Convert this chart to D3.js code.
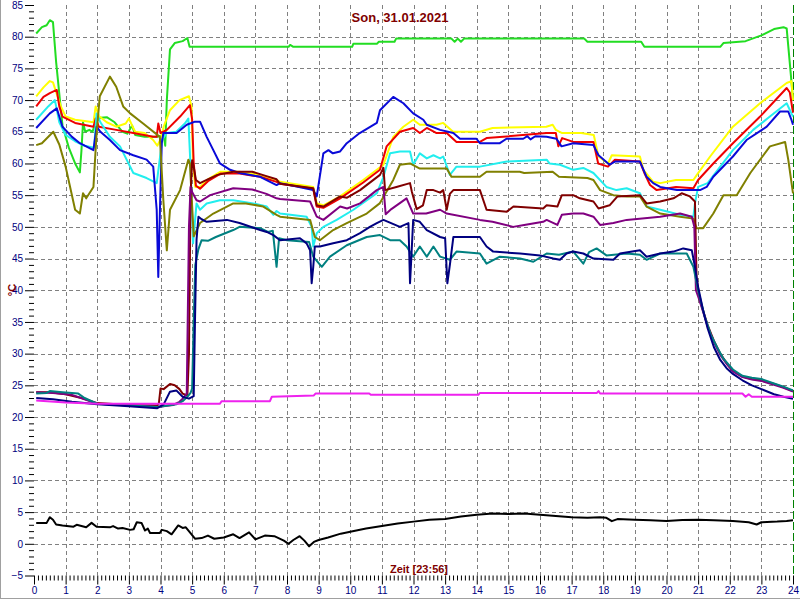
<!DOCTYPE html>
<html><head><meta charset="utf-8">
<script src="https://cdn.jsdelivr.net/npm/d3@7"></script>
<style>body{margin:0;background:#fff}svg{display:block}</style>
</head><body>
<svg id="c" width="800" height="600"></svg>
<script>
const title = "Son, 31.01.2021";
const xTitle = "Zeit [23:56]";
const yTitle = "°C";
const xTicks = d3.range(0, 25, 1);
const yTicks = d3.range(-5, 86, 5);

const green = [[0.07,80.5],[0.25,81.5],[0.4,81.8],[0.5,82.6],[0.6,82.3],[0.7,76],[0.82,70],[0.9,66],[1.1,62.5],[1.3,60],[1.45,58.6],[1.5,62],[1.55,66.5],[1.62,65],[1.75,65.3],[1.85,65],[1.95,66.6],[2.1,67.2],[2.3,67.3],[2.55,66.5],[2.8,65],[2.95,64.7],[3.1,66],[3.2,64.5],[3.5,64.2],[3.9,64.2],[4.1,64.5],[4.15,62.8],[4.2,70],[4.3,78],[4.45,79],[4.7,79.3],[4.85,79.8],[4.92,78.4],[8.05,78.4],[8.1,78.7],[8.2,78.4],[10.06,78.4],[10.1,78.9],[10.85,78.9],[10.9,79.2],[11.4,79.2],[11.45,79.7],[13.2,79.7],[13.3,79.2],[13.4,79.7],[13.5,79.2],[13.6,79.7],[17.4,79.7],[17.5,79.2],[19.2,79.2],[19.3,78.4],[21.7,78.4],[21.8,79],[22.5,79.3],[23.0,80.2],[23.4,81.2],[23.7,81.5],[23.8,81.3],[23.95,73],[24,70]];
const yellow = [[0.07,70.6],[0.3,72],[0.5,73.0],[0.6,72.8],[0.75,70.5],[0.85,69],[1.0,67.4],[1.3,66.9],[1.6,66.7],[1.88,66.5],[1.95,69],[2.05,67.5],[2.3,66.5],[2.6,65.8],[2.9,66.3],[3.0,67.1],[3.1,66],[3.2,65],[3.5,64.8],[3.77,63.7],[3.9,62.8],[4.0,63.8],[4.1,65.8],[4.3,68.4],[4.6,70],[4.9,70.6],[4.98,69],[5.03,60],[5.1,56.3],[5.25,56.3],[5.5,57.5],[5.9,58.7],[6.5,58.7],[7.15,58.2],[7.67,57.4],[7.78,57.1],[8.83,56.3],[8.94,53.7],[9.15,53.4],[9.68,54.8],[10.41,57.4],[11.05,59.8],[11.36,64.2],[11.68,65.8],[11.99,66.9],[12.2,66.1],[12.73,66.1],[12.94,66.4],[13.25,65],[14.1,65],[14.5,65.6],[16.2,65.8],[16.4,66.1],[16.5,65.3],[16.7,64.8],[17.3,64.8],[17.7,64.5],[17.85,61.1],[18.15,60.0],[18.27,61.3],[19.16,61.1],[19.27,59],[19.58,57.1],[19.8,56.9],[20.3,57.4],[20.85,57.4],[20.96,58.2],[21.38,61.1],[22.1,65.8],[22.96,69.5],[23.8,72.7],[23.95,73.0],[24,70]];
const red = [[0.07,69],[0.3,70.5],[0.5,71.1],[0.72,71.6],[0.8,69],[0.9,67.4],[1.3,66.4],[1.88,65.8],[1.95,67.1],[2.05,65.8],[2.6,65.3],[3.14,64.8],[3.77,64.2],[3.88,64.2],[3.93,66.3],[4.0,64.8],[4.2,65.3],[4.62,67.4],[4.93,69.2],[5.0,67],[5.05,60],[5.12,56.5],[5.25,56.0],[5.5,57.2],[5.9,58.4],[6.5,58.4],[7.15,57.9],[7.67,57.1],[7.78,56.8],[8.83,56.0],[8.94,53.2],[9.15,53.0],[9.68,54.5],[10.41,57],[10.94,59],[11.15,62.7],[11.57,65],[11.99,65.6],[12.2,64.8],[12.42,65.6],[12.73,64.8],[13.05,64.8],[13.36,63.4],[14.1,63.4],[14.31,64],[16.21,64.8],[16.5,64.8],[16.58,62.7],[16.7,64],[17.05,63.4],[17.69,63.4],[17.84,60.0],[18.15,59.5],[18.37,60.6],[19.16,60.3],[19.3,58.5],[19.48,56.6],[19.69,55.8],[20.3,56.3],[20.85,56.1],[21.0,57.4],[21.48,60.0],[22.1,63.2],[22.96,67.4],[23.8,71.9],[23.9,71.2],[24,68]];
const cyan = [[0.07,66.9],[0.45,69],[0.66,70],[0.8,66.5],[1.0,64.5],[1.3,63.5],[1.6,62.8],[1.9,62.5],[1.98,67.9],[2.1,66.5],[2.4,64.2],[2.72,62.7],[3.14,58.5],[3.56,57.7],[3.88,56.9],[3.96,60],[4.05,63.7],[4.2,64.8],[4.5,65],[4.77,66.3],[4.88,67.1],[4.95,59.5],[5.03,47.4],[5.14,53.7],[5.25,52.7],[5.46,53.7],[5.88,54.2],[6.3,54.2],[6.93,53.7],[7.36,53.2],[7.57,51.9],[7.67,52.5],[7.78,52.1],[8.62,51.6],[8.78,50],[8.83,46.9],[8.94,49],[9.15,50],[9.57,51.1],[10.1,52.7],[10.84,55.3],[11.05,57.9],[11.26,61.6],[11.57,61.9],[11.89,61.9],[11.99,59.8],[12.2,61.6],[12.42,60.8],[12.63,61.3],[12.84,60.8],[12.94,61.1],[13.15,58.2],[13.36,59.5],[14.1,59.5],[14.95,60.3],[16.21,60.6],[16.3,60.0],[16.63,59.8],[17.05,59],[17.37,59.3],[17.69,58.5],[18.1,56.3],[18.42,55.8],[18.74,56.1],[19.16,55.3],[19.37,53.2],[19.8,52.7],[20.43,51.9],[20.85,51.6],[20.9,53.7],[21.0,56.3],[21.3,56.9],[22.1,62.1],[22.74,65.3],[23.27,67.4],[23.8,69.5],[23.95,67.9],[24,67.4]];
const blue = [[0.07,65.6],[0.5,67.9],[0.72,68.7],[0.9,65.8],[1.2,64.2],[1.45,63.2],[1.88,62.1],[1.98,65.8],[2.1,65.0],[2.4,63.7],[2.72,62.1],[3.14,61.3],[3.56,60.6],[3.77,59.5],[3.88,52.7],[3.93,42.1],[3.99,54.2],[4.04,63.2],[4.09,64.8],[4.51,64.8],[4.83,66.1],[5.09,66.6],[5.25,66.6],[5.46,64.2],[5.67,62.1],[5.88,60.0],[6.2,59],[6.5,58.5],[7.15,57.9],[7.67,56.6],[7.78,56.9],[8.83,55.8],[8.94,54.8],[9.15,61.6],[9.31,62.1],[9.45,61.6],[9.68,61.9],[9.89,63.2],[10.3,64.8],[10.84,66.4],[10.94,68.4],[11.36,70.5],[11.68,69.5],[11.99,67.9],[12.31,66.9],[12.42,66.1],[12.84,65.3],[13.26,64.8],[13.47,63.9],[13.99,63.9],[14.1,63.2],[14.73,63.2],[14.94,63.9],[15.47,63.9],[15.6,64.3],[15.7,63.8],[15.85,64.3],[16.21,64.2],[16.52,63.9],[16.68,62.7],[17.05,63.2],[17.69,62.9],[17.85,61.3],[18.2,59.8],[18.37,60.3],[19.16,60.3],[19.37,57.9],[19.58,56.9],[19.8,56.3],[20.33,55.8],[21.06,55.8],[21.27,56.3],[21.48,57.9],[22.1,61.1],[22.53,63.7],[23.17,65.8],[23.59,68.2],[23.85,68.2],[23.95,66.9],[24,66.1]];
const olive = [[0.07,62.9],[0.25,63.2],[0.61,65],[0.8,63],[1.0,59.5],[1.3,52.7],[1.45,52.1],[1.55,55.3],[1.65,54.5],[1.88,56.3],[1.98,64.8],[2.08,70.6],[2.4,73.7],[2.6,72.1],[2.82,69],[3.04,67.9],[3.45,66.3],[3.98,64.2],[4.09,54.2],[4.2,46.3],[4.3,52.7],[4.62,55.8],[4.88,60.6],[4.93,60.0],[5.05,48.5],[5.25,50.6],[5.67,52.1],[6.3,53.7],[6.7,53.7],[7.25,53.2],[7.67,51.9],[7.78,51.6],[8.73,51.1],[8.88,48.4],[9.04,47.9],[9.46,49.5],[9.89,50.6],[10.52,52.1],[10.93,53.7],[11.36,57.4],[11.57,59.8],[11.89,60.0],[12.2,59.2],[13.05,59.2],[13.2,57.9],[14.1,57.9],[14.31,58.7],[15.36,58.7],[15.5,58.5],[16.4,58.7],[16.6,57.9],[17.5,57.7],[17.69,57.4],[17.9,55.8],[18.32,55.0],[18.74,54.8],[19.16,54.8],[19.37,53.2],[19.8,52.1],[20.43,51.6],[20.85,51.3],[20.95,49.8],[21.16,49.8],[21.48,52.1],[21.8,55],[22.22,55],[22.65,58.5],[23.27,62.7],[23.75,63.4],[23.85,60.6],[24,55.3]];
const maroon = [[0.07,23.9],[0.5,23.9],[1.0,23.6],[1.5,23.0],[2.0,22.2],[3.0,21.9],[3.9,21.8],[3.95,22.2],[4.0,24.5],[4.1,24.4],[4.3,25.2],[4.45,25.0],[4.6,24.4],[4.7,23.7],[4.85,23.4],[4.9,30],[4.95,55],[5.0,60.5],[5.05,59.5],[5.12,57.4],[5.25,56.9],[5.46,57.4],[5.8,58.2],[6.3,58.7],[6.9,58.7],[7.35,58],[7.67,57.5],[7.78,56.8],[8.83,56.1],[8.94,53.4],[9.15,53.2],[9.68,54.8],[9.9,54.6],[10.31,55.8],[10.94,58.2],[11.05,59.3],[11.1,55.8],[11.46,56.3],[11.89,56.9],[11.95,55.5],[12.1,52.8],[12.3,53.4],[12.42,55.8],[12.63,55.8],[12.84,55.4],[12.94,55.8],[13.05,52.7],[13.15,55.2],[13.26,55.8],[14.1,55.8],[14.31,52.7],[14.95,52.4],[15.16,53.2],[16.1,52.9],[16.21,53.4],[16.55,53.2],[16.69,55.0],[17.05,55],[17.26,54.5],[17.69,54.0],[17.85,52.9],[18.2,53.4],[18.45,54.8],[19.16,55],[19.37,53.7],[19.8,54],[20.22,54.5],[20.48,55.3],[20.74,54.8],[20.9,54],[20.95,42],[21.05,38.5],[21.3,34.5],[21.5,32],[21.7,30],[21.9,28.5],[22.1,27.3],[22.4,26.4],[22.7,26.0],[23.0,25.8],[23.4,25.2],[23.7,24.7],[24,24.1]];
const purple = [[0.07,23.9],[0.6,23.8],[1.2,23.5],[1.6,22.8],[2.0,22.1],[3.0,21.9],[3.9,21.6],[4.4,21.9],[4.6,22.4],[4.7,22.9],[4.83,23.7],[4.86,35],[4.9,50],[4.95,56.3],[5.0,55.5],[5.14,54.2],[5.25,54],[5.57,55],[6.3,56.1],[6.9,55.9],[7.35,55.2],[7.67,54.5],[7.78,54.4],[8.73,54],[8.94,51.6],[9.15,51.1],[9.68,53.2],[9.9,52.9],[10.31,53.7],[10.84,55.8],[11.05,56.3],[11.12,52],[11.3,52.8],[11.78,54.5],[11.99,52.1],[12.4,52.1],[12.84,52.7],[13.05,52.1],[14.1,51.1],[14.5,50.8],[15.15,50],[15.5,50.3],[16.1,50.8],[16.21,51.1],[16.55,50.3],[16.69,51.9],[17.05,52.1],[17.37,52.1],[17.69,51.6],[17.9,50.3],[18.32,50.6],[18.74,51.1],[19.8,51.6],[20.43,52.1],[20.8,51.6],[20.88,50],[20.93,40],[21.05,38.3],[21.3,34.3],[21.5,31.8],[21.7,29.8],[21.9,28.4],[22.1,27.2],[22.4,26.3],[22.7,25.9],[23.0,25.7],[23.4,25.1],[23.7,24.6],[24,24.0]];
const navy = [[0.07,23.0],[0.6,22.8],[1.2,22.4],[2.0,22.0],[3.0,21.7],[3.9,21.4],[4.1,22.0],[4.3,24.0],[4.5,24.2],[4.7,23.2],[4.9,22.9],[5.05,23.3],[5.09,35],[5.14,48],[5.2,51.6],[5.3,51.2],[5.46,50.8],[6.1,51.1],[6.5,50.6],[7.15,49.5],[7.36,49.2],[7.57,48.7],[7.78,47.9],[8.41,48.2],[8.62,47.4],[8.73,46.3],[8.78,41.1],[8.83,43.7],[8.88,46.9],[9.04,46.9],[9.46,47.4],[9.89,47.9],[10.31,49],[10.62,50],[10.84,50.6],[11.05,51.1],[11.57,50],[11.84,50.6],[11.89,41.1],[11.94,46],[11.99,51.1],[12.2,50.8],[12.42,49.5],[12.84,48.4],[13.0,48.2],[13.07,41.1],[13.15,44],[13.26,48.4],[14.1,48.4],[14.31,46.9],[14.52,46.1],[15.37,45.8],[16.0,45.5],[16.42,45],[16.63,44.8],[16.84,45.8],[17.05,46.1],[17.37,45.8],[17.69,45],[18.32,44.8],[18.53,45.8],[19.16,46.3],[19.37,45.3],[19.8,45.8],[20.22,46.1],[20.53,46.6],[20.8,46.3],[20.9,43.7],[21.0,40.5],[21.15,37],[21.3,34],[21.5,31],[21.7,29],[21.9,27.7],[22.1,26.8],[22.4,25.8],[22.7,25.0],[23.0,24.4],[23.4,23.6],[23.7,23.2],[24,22.9]];
const teal = [[0.07,23.7],[0.4,23.8],[0.5,24.1],[0.9,23.9],[1.4,23.7],[1.6,23.0],[2.0,22.1],[3.0,21.8],[3.9,21.6],[4.5,22.0],[4.7,22.5],[4.85,23.2],[4.95,23.8],[5.0,24.5],[5.05,35],[5.1,44],[5.2,46.5],[5.3,47.9],[5.5,47.8],[5.75,48.4],[6.3,49.5],[6.5,50],[7.15,49.8],[7.4,49.2],[7.55,49.4],[7.67,43.7],[7.75,48.2],[8.0,47.9],[8.7,47.6],[8.83,45.3],[9.1,43.7],[9.36,45.3],[9.89,47.1],[10.52,48.4],[10.94,48.7],[11.26,47.9],[11.57,47.9],[11.78,46.9],[11.99,45.3],[12.2,46.9],[12.42,45.3],[12.63,46.9],[12.84,45.3],[13.15,44.8],[13.36,46.1],[14.1,45.8],[14.31,44.2],[14.73,45.3],[15.37,45],[15.79,44.5],[16.21,45.8],[16.6,45.6],[17.05,46.1],[17.37,44.2],[17.55,46],[17.79,46.6],[18.1,45.5],[18.74,45.8],[19.16,45.6],[19.37,44.8],[19.8,45.8],[20.64,45.8],[20.85,43.7],[21.0,40],[21.2,36],[21.4,33],[21.6,31],[21.8,29.2],[22.1,27.5],[22.4,26.5],[22.7,26.2],[23.0,26.0],[23.4,25.3],[23.7,24.8],[24,24.2]];
const magenta = [[0.07,22.6],[1.0,22.3],[2.0,22.1],[5.88,22.1],[5.93,22.5],[7.46,22.5],[7.52,23.2],[8.85,23.4],[8.9,23.7],[10.6,23.7],[10.65,23.5],[14.05,23.5],[14.1,23.8],[17.8,23.8],[17.85,24.1],[17.9,23.7],[22.4,23.7],[22.5,23.2],[22.6,23.6],[22.7,23.2],[24,23.2]];
const black = [[0.07,3.3],[0.4,3.3],[0.5,4.2],[0.6,3.8],[0.7,3.05],[0.9,2.9],[1.25,2.7],[1.35,3.0],[1.65,2.6],[1.82,3.3],[1.98,2.7],[2.4,2.6],[2.5,2.8],[2.66,2.4],[2.8,2.5],[3.04,2.2],[3.15,2.3],[3.25,3.4],[3.4,3.3],[3.51,2.1],[3.6,2.4],[3.67,1.7],[3.98,1.7],[4.04,2.2],[4.2,2.0],[4.35,1.5],[4.56,2.9],[4.7,2.5],[4.8,2.6],[4.93,1.8],[5.09,0.8],[5.3,0.9],[5.5,1.3],[5.7,0.8],[6.0,1.0],[6.3,1.5],[6.5,0.9],[6.8,1.8],[7.0,0.7],[7.3,1.3],[7.6,1.2],[7.9,0.5],[8.05,0.0],[8.2,0.6],[8.4,1.2],[8.55,0.5],[8.7,-0.4],[8.85,0.3],[9.0,0.6],[9.3,1.0],[9.7,1.6],[10.0,1.9],[10.5,2.4],[11.0,2.8],[11.5,3.2],[12.0,3.5],[12.5,3.8],[13.0,3.9],[13.5,4.3],[14.0,4.6],[14.5,4.8],[15.0,4.7],[15.5,4.8],[16.0,4.6],[16.5,4.4],[17.0,4.2],[17.5,4.1],[17.9,4.2],[18.1,4.1],[18.27,3.57],[18.45,3.9],[19.0,3.8],[19.5,3.7],[20.0,3.6],[20.5,3.75],[21.0,3.8],[21.5,3.7],[22.1,3.6],[22.6,3.4],[22.85,3.05],[23.0,3.4],[23.5,3.5],[23.8,3.6],[24,3.7]];

const series = [
  {data: green, color: "#22dd22"},
  {data: yellow, color: "#ffff00"},
  {data: red, color: "#ee0000"},
  {data: cyan, color: "#22eeee"},
  {data: blue, color: "#0a0ad8"},
  {data: olive, color: "#808000"},
  {data: maroon, color: "#800000"},
  {data: purple, color: "#800080"},
  {data: teal, color: "#008080"},
  {data: navy, color: "#000080"},
  {data: magenta, color: "#ee22ee"},
  {data: black, color: "#000000"}
];

const svg = d3.select("#c");
const x = d3.scaleLinear().domain([0, 24]).range([34, 793]);
const y = d3.scaleLinear().domain([-5, 85]).range([575.5, 5]);

// frame
svg.append("line").attr("x1",0.5).attr("x2",0.5).attr("y1",0).attr("y2",599).attr("stroke","#a0a0a0");
svg.append("line").attr("x1",0).attr("x2",800).attr("y1",598.5).attr("y2",598.5).attr("stroke","#a0a0a0");

// grid
const g = svg.append("g");
g.selectAll("line.h").data(yTicks.filter(v => v > -5 && v < 85)).join("line")
  .attr("x1", x(0)).attr("x2", x(24))
  .attr("y1", d => Math.round(y(d)) + 0.5).attr("y2", d => Math.round(y(d)) + 0.5)
  .attr("stroke", "#808080").attr("stroke-dasharray", "4,3");
g.selectAll("line.v").data(xTicks.filter(v => v > 0 && v < 24)).join("line")
  .attr("x1", d => Math.round(x(d)) + 0.5).attr("x2", d => Math.round(x(d)) + 0.5)
  .attr("y1", y(85)).attr("y2", y(-5))
  .attr("stroke", "#808080").attr("stroke-dasharray", "4,3");
svg.append("line")
  .attr("x1", Math.round(x(24)) + 0.5).attr("x2", Math.round(x(24)) + 0.5)
  .attr("y1", y(85)).attr("y2", y(-5))
  .attr("stroke", "#008000").attr("stroke-dasharray", "8,3");

// axes
const font = "'Liberation Sans', Arial, sans-serif";
const yAxis = svg.append("g").attr("transform", "translate(34,0)")
  .call(d3.axisLeft(y).tickValues(yTicks).tickSize(9).tickPadding(2));
const yMinor = svg.append("g").attr("transform", "translate(34,0)")
  .call(d3.axisLeft(y).tickValues(d3.range(-5, 86, 1).filter(v => v % 5 !== 0)).tickSize(5).tickFormat(""));
const xAxis = svg.append("g").attr("transform", "translate(0," + y(-5) + ")")
  .call(d3.axisBottom(x).tickValues(xTicks).tickSize(9).tickPadding(2));
const xMinor = svg.append("g").attr("transform", "translate(0," + y(-5) + ")")
  .call(d3.axisBottom(x).tickValues(d3.range(0, 24, 0.125).filter(v => v % 1 !== 0)).tickSize(5).tickFormat(""));
[yAxis, yMinor, xAxis, xMinor].forEach(a => {
  a.select(".domain").remove();
  a.selectAll("line").attr("stroke", "#000");
  a.selectAll("text").attr("fill", "#000080").style("font-family", font).style("font-size", "10px");
});

// series
const line = d3.line().x(d => x(d[0])).y(d => y(d[1]));
svg.append("g").selectAll("path").data(series).join("path")
  .attr("d", d => line(d.data))
  .attr("fill", "none")
  .attr("stroke", d => d.color)
  .attr("stroke-width", 2)
  .attr("stroke-linejoin", "round");

// texts
svg.append("text").attr("x", 400).attr("y", 22).attr("text-anchor", "middle")
  .attr("fill", "#800000").style("font-family", font).style("font-weight", "bold").style("font-size", "13px")
  .text(title);
svg.append("text").attr("x", 419).attr("y", 573).attr("text-anchor", "middle")
  .attr("fill", "#800000").style("font-family", font).style("font-weight", "bold").style("font-size", "11px")
  .text(xTitle);
svg.append("text").attr("transform", "translate(16,290) rotate(-90)").attr("text-anchor", "middle")
  .attr("fill", "#800000").style("font-family", font).style("font-weight", "bold").style("font-size", "11px")
  .text(yTitle);
</script>
</body></html>
